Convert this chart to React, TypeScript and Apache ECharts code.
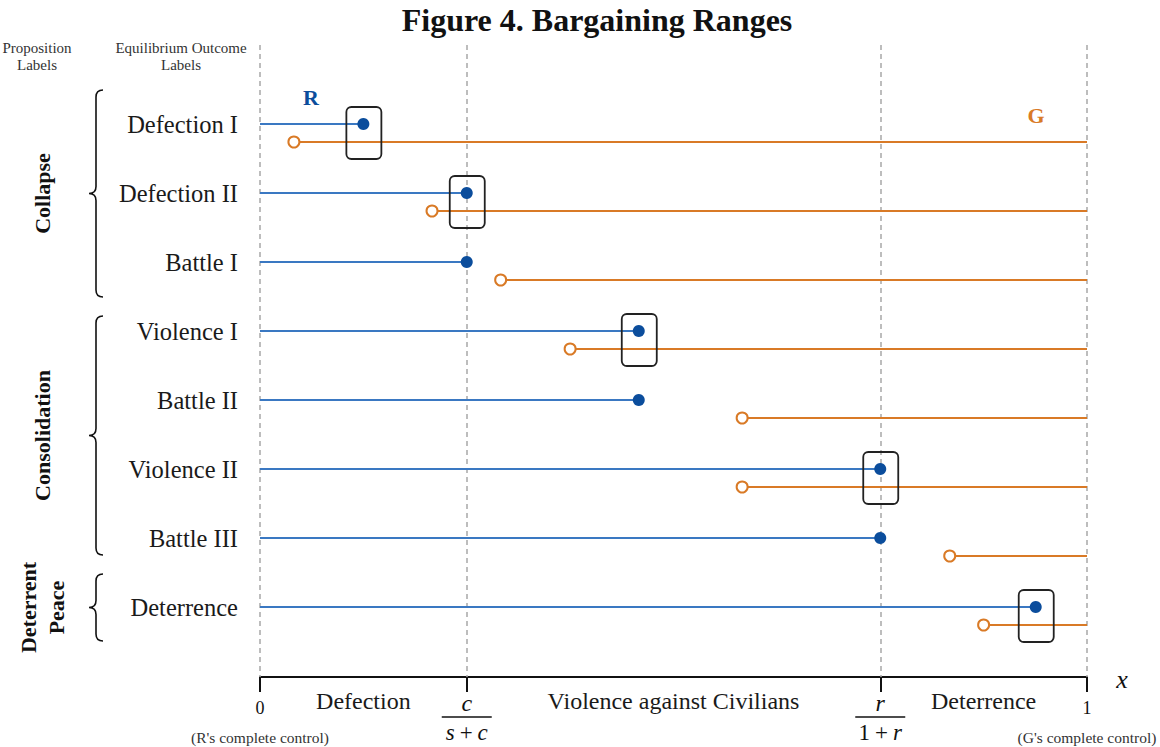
import React, { useEffect, useRef } from 'react';
import * as echarts from 'echarts';

// ---------- data ----------
const outcomeLabels = ['Defection I', 'Defection II', 'Battle I', 'Violence I', 'Battle II', 'Violence II', 'Battle III', 'Deterrence'];
const rUpperBound = [0.125, 0.25, 0.25, 0.458, 0.458, 0.75, 0.75, 0.938];
const gLowerBound = [0.041, 0.208, 0.291, 0.375, 0.583, 0.583, 0.834, 0.875];
const highlighted = [true, true, false, true, false, true, false, true];
const thresholdValues = [0, 0.25, 0.75, 1];
const regionNames = ['Defection', 'Violence against Civilians', 'Deterrence'];
const regionCenters = [0.125, 0.5, 0.875];
const groupNames = ['Collapse', 'Consolidation', 'Deterrent\nPeace'];
const groupFirstRow = [0, 3, 7];
const groupLastRow = [2, 6, 7];

// ---------- styling / layout ----------
const SERIF = '"Liberation Serif", "Times New Roman", serif';
const BLUE_LINE = '#3a78c2';
const BLUE_DOT = '#0b4d9c';
const ORANGE = '#d97a26';
const G_OFFSET = 18 / 69;
const Y_MIN = -(124 - 45) / 69;
const Y_MAX = Y_MIN + 632 / 69;
const bracePadTop = [34, 15, 33];
const bracePadBottom = [35, 17, 34];

echarts.graphic.registerShape(
  'brace',
  echarts.graphic.extendShape({
    shape: { x: 0, top: 0, bottom: 0 },
    buildPath(ctx: any, s: any) {
      const mid = (s.top + s.bottom) / 2;
      const x = s.x;
      const w = 7;
      ctx.moveTo(x + w, s.top);
      ctx.quadraticCurveTo(x, s.top, x, s.top + w);
      ctx.lineTo(x, mid - w);
      ctx.quadraticCurveTo(x, mid, x - w, mid);
      ctx.quadraticCurveTo(x, mid, x, mid + w);
      ctx.lineTo(x, s.bottom - w);
      ctx.quadraticCurveTo(x, s.bottom, x + w, s.bottom);
    },
  }) as any
);

export default function App() {
  const ref = useRef<HTMLDivElement>(null);

  useEffect(() => {
    if (!ref.current) return;
    const chart = echarts.init(ref.current, null, { renderer: 'svg' });

    const data = outcomeLabels.map((_, i) => [i, rUpperBound[i], gLowerBound[i], highlighted[i] ? 1 : 0]);

    chart.setOption({
      animation: false,
      grid: { left: 260, right: 73, top: 45, bottom: 70 },
      xAxis: {
        type: 'value',
        min: 0,
        max: 1,
        splitLine: { show: false },
        axisLine: { show: true, onZero: false, lineStyle: { color: '#111', width: 2 } },
        axisTick: {
          show: true,
          customValues: thresholdValues,
          length: 15,
          lineStyle: { color: '#111', width: 2 },
        },
        axisLabel: { show: false },
      },
      yAxis: {
        type: 'value',
        inverse: true,
        min: Y_MIN,
        max: Y_MAX,
        axisLine: { show: false },
        axisTick: { show: false },
        splitLine: { show: false },
        axisLabel: {
          show: true,
          customValues: outcomeLabels.map((_, i) => i),
          formatter: (v: number) => outcomeLabels[Math.round(v)] ?? '',
          fontFamily: SERIF,
          fontSize: 24.5,
          color: '#1a1a1a',
          margin: 22,
        },
      },
      series: [
        {
          type: 'line',
          data: [],
          z: 1,
          silent: true,
          markLine: {
            silent: true,
            symbol: ['none', 'none'],
            label: { show: false },
            lineStyle: { type: [5, 4], color: '#a8a8a8', width: 1.5 },
            data: thresholdValues.map((v) => ({ xAxis: v })),
          },
        },
        {
          type: 'custom',
          data,
          encode: { x: [1, 2], y: 0 },
          z: 5,
          renderItem: (params: any, api: any) => {
            const i = api.value(0);
            const re = api.value(1);
            const gs = api.value(2);
            const bx = api.value(3);
            const b0 = api.coord([0, i]);
            const b1 = api.coord([re, i]);
            const g0 = api.coord([gs, i + G_OFFSET]);
            const g1 = api.coord([1, i + G_OFFSET]);
            const children: any[] = [
              {
                type: 'line',
                shape: { x1: b0[0], y1: b0[1], x2: b1[0], y2: b1[1] },
                style: { stroke: BLUE_LINE, lineWidth: 2 },
              },
              {
                type: 'line',
                shape: { x1: g0[0], y1: g0[1], x2: g1[0], y2: g1[1] },
                style: { stroke: ORANGE, lineWidth: 2 },
              },
              {
                type: 'circle',
                shape: { cx: g0[0], cy: g0[1], r: 5.5 },
                style: { fill: '#fff', stroke: ORANGE, lineWidth: 2 },
              },
              {
                type: 'circle',
                shape: { cx: b1[0], cy: b1[1], r: 6 },
                style: { fill: BLUE_DOT },
              },
            ];
            if (bx) {
              children.push({
                type: 'rect',
                shape: { x: b1[0] - 17, y: b1[1] - 17, width: 35, height: 52, r: 5 },
                style: { fill: 'none', stroke: '#222', lineWidth: 1.8 },
              });
            }
            return { type: 'group', children };
          },
        },
      ],
    });

    const X = (v: number) => chart.convertToPixel({ xAxisIndex: 0 } as any, v) as unknown as number;
    const Y = (v: number) => chart.convertToPixel({ yAxisIndex: 0 } as any, v) as unknown as number;

    const graphics: any[] = [];
    const txt = (x: number, y: number, text: string, style: any = {}, extra: any = {}) =>
      graphics.push({
        type: 'text',
        x,
        y,
        ...extra,
        style: {
          text,
          fontFamily: SERIF,
          fill: '#111',
          align: 'center',
          verticalAlign: 'middle',
          ...style,
        },
      });

    txt(597, 20, 'Figure 4. Bargaining Ranges', { fontSize: 32, fontWeight: 'bold' });
    txt(37, 56, 'Proposition\nLabels', { fontSize: 15, lineHeight: 17, fill: '#333' });
    txt(181, 56, 'Equilibrium Outcome\nLabels', { fontSize: 15, lineHeight: 17, fill: '#333' });
    txt(311, 97, 'R', { fontSize: 22, fontWeight: 'bold', fill: BLUE_DOT });
    txt(1036, 115, 'G', { fontSize: 22, fontWeight: 'bold', fill: ORANGE });
    txt(1122, 679, 'x', { fontSize: 26, fontStyle: 'italic' });

    groupNames.forEach((name, g) => {
      const top = Y(groupFirstRow[g]) - bracePadTop[g];
      const bottom = Y(groupLastRow[g]) + bracePadBottom[g];
      graphics.push({
        type: 'brace',
        shape: { x: 96, top, bottom },
        style: { fill: 'none', stroke: '#111', lineWidth: 1.6 },
      });
      txt(42, (top + bottom) / 2, name, { fontSize: 22, fontWeight: 'bold', lineHeight: 28 }, { rotation: Math.PI / 2 });
    });

    // x-axis annotations
    const x0 = X(0);
    const x1 = X(1);
    txt(x0, 708, '0', { fontSize: 18 });
    txt(x0, 737, "(R's complete control)", { fontSize: 15.5, fill: '#333' });
    txt(x1, 708, '1', { fontSize: 18 });
    txt(x1, 737, "(G's complete control)", { fontSize: 15.5, fill: '#333' });

    const mathRich = {
      i: { fontFamily: SERIF, fontSize: 23, fontStyle: 'italic', fill: '#111' },
      n: { fontFamily: SERIF, fontSize: 23, fill: '#111', padding: [0, 5] },
    };

    const xc = X(thresholdValues[1]);
    txt(xc, 703, 'c', { fontSize: 24, fontStyle: 'italic' });
    graphics.push({ type: 'line', shape: { x1: xc - 25, y1: 717, x2: xc + 25, y2: 717 }, style: { stroke: '#111', lineWidth: 1.5 } });
    graphics.push({
      type: 'text',
      x: xc,
      y: 732,
      style: { text: '{i|s}{n|+}{i|c}', align: 'center', verticalAlign: 'middle', rich: mathRich },
    });

    const xr = X(thresholdValues[2]);
    txt(xr, 703, 'r', { fontSize: 24, fontStyle: 'italic' });
    graphics.push({ type: 'line', shape: { x1: xr - 25, y1: 717, x2: xr + 25, y2: 717 }, style: { stroke: '#111', lineWidth: 1.5 } });
    graphics.push({
      type: 'text',
      x: xr,
      y: 732,
      style: { text: '{d|1}{n|+}{i|r}', align: 'center', verticalAlign: 'middle', rich: { ...mathRich, d: { fontFamily: SERIF, fontSize: 23, fill: '#111' } } },
    });

    regionNames.forEach((name, k) => {
      txt(X(regionCenters[k]), 701, name, { fontSize: 24, fill: '#1a1a1a' });
    });

    chart.setOption({ graphic: graphics });

    return () => chart.dispose();
  }, []);

  return <div ref={ref} style={{ position: 'fixed', left: 0, top: 0, width: 1160, height: 747, background: '#fff' }} />;
}
